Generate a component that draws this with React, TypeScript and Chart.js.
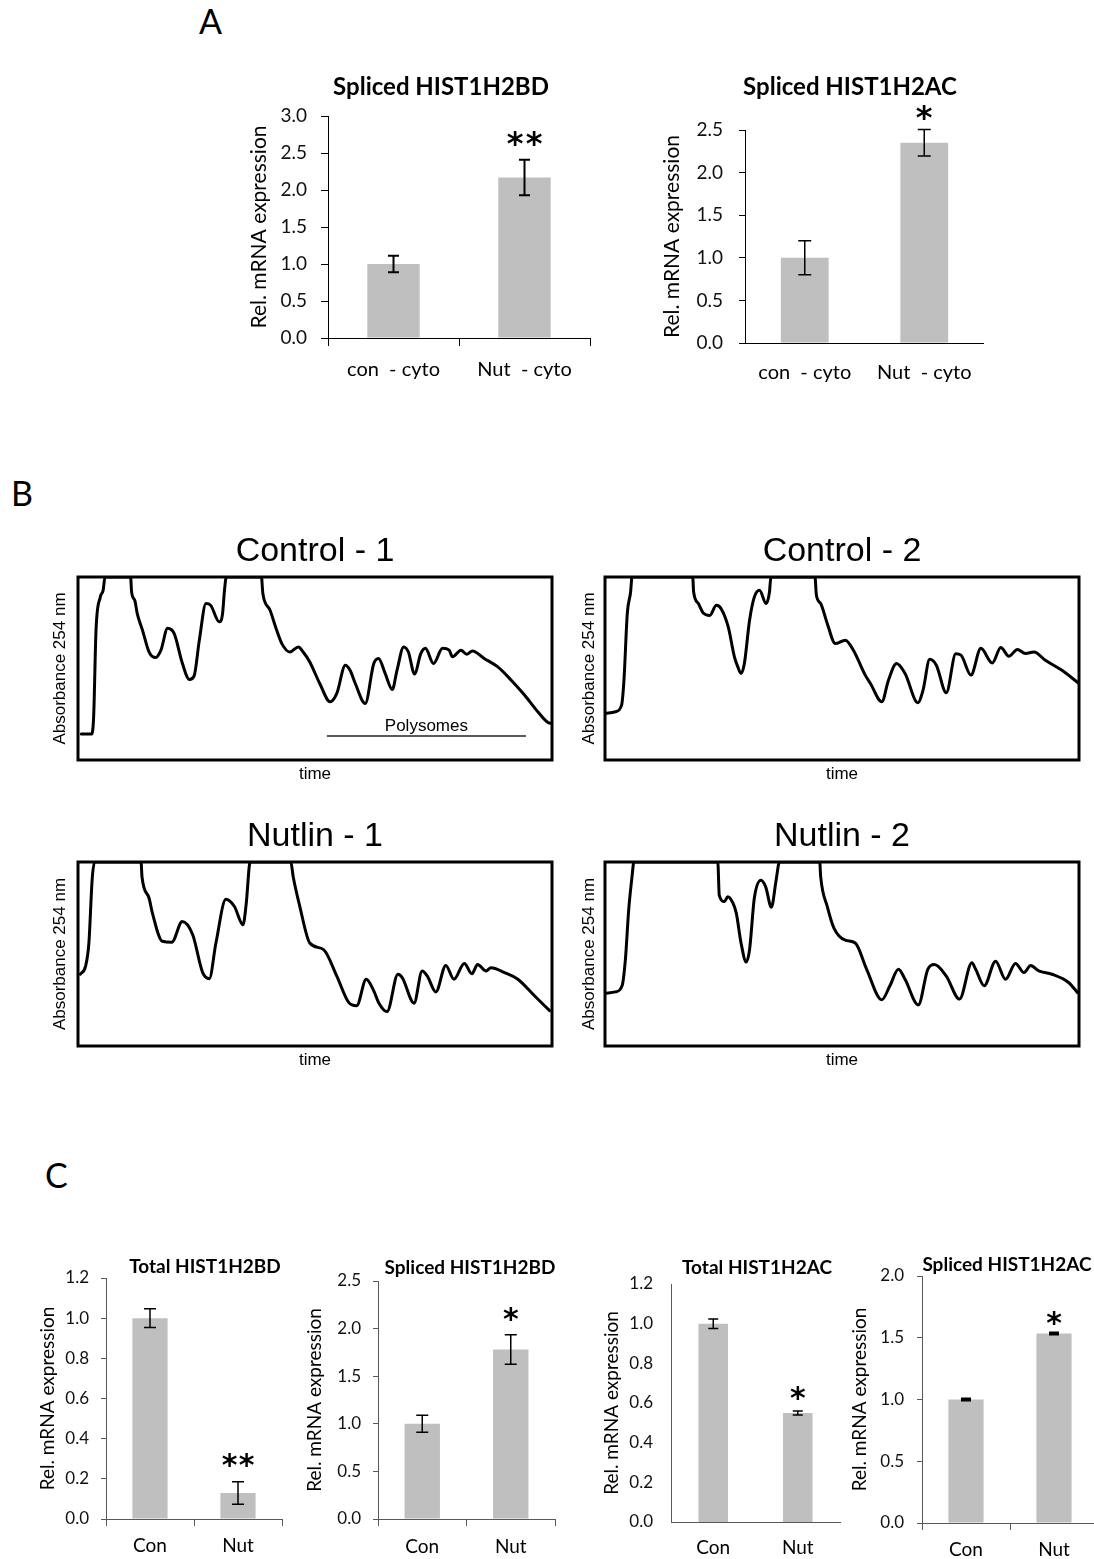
import React, { useEffect, useRef } from 'react';
import { Chart, registerables } from 'chart.js';

Chart.register(...registerables);

const CAL = 'Lato, "Open Sans", sans-serif';
const ARIAL = '"Liberation Sans", Arial, sans-serif';
const STAR_FONT = '"DejaVu Sans", sans-serif';

// ---------------- Panel A data ----------------
const A_CATEGORIES = ['con  - cyto', 'Nut  - cyto'];
const A1_VALUES = [1.0, 2.17];
const A1_ERRORS = [0.11, 0.24];
const A1_STARS = ['', '**'];
const A2_VALUES = [1.0, 2.35];
const A2_ERRORS = [0.2, 0.155];
const A2_STARS = ['', '*'];

// ---------------- Panel C data ----------------
const C_CATEGORIES = ['Con', 'Nut'];
const C1_VALUES = [1.0, 0.13];
const C1_ERRORS = [0.047, 0.056];
const C1_STARS = ['', '**'];
const C2_VALUES = [1.0, 1.78];
const C2_ERRORS = [0.09, 0.155];
const C2_STARS = ['', '*'];
const C3_VALUES = [1.0, 0.55];
const C3_ERRORS = [0.024, 0.01];
const C3_STARS = ['', '*'];
const C4_VALUES = [1.0, 1.535];
const C4_ERRORS = [0.006, 0.006];
const C4_STARS = ['', '*'];

// ---------------- Panel B data (polysome profiles, % of full scale) ----------------
const CONTROL1_TIME = [0.7, 2.8, 3.3, 3.8, 4.7, 5.3, 5.7, 11.1, 11.3, 12, 12.5, 13.6, 15, 16.4, 17.5, 18.9, 20.3, 22, 23.5, 24.5, 25.6, 27, 28, 29.8, 30.5, 30.9, 31.3, 38.7, 39, 40.5, 41.9, 43, 44.7, 46.5, 47.5, 48.9, 51, 53.2, 54.6, 56.4, 57.4, 58.5, 60.6, 62.4, 63.4, 64.8, 66.3, 67.3, 68.7, 69.7, 71, 72.3, 73.3, 75, 76.9, 78.3, 79, 80.8, 82, 83.2, 85.7, 88.5, 91.4, 94.2, 97, 99.2, 100];
const CONTROL1_A254 = [14.2, 14.2, 23.6, 71, 89, 92.7, 100, 100, 92, 87, 80, 71, 59, 56, 60, 72, 69, 53, 44, 46, 65.5, 85.5, 84.5, 75.5, 80, 92.7, 100, 100, 91, 82, 71, 63.6, 59, 61.8, 59, 53.6, 41.8, 31.8, 36.4, 51.8, 49, 41.8, 30.9, 52.7, 55.5, 47.3, 38.5, 49, 61.8, 59, 47, 58, 61, 52.7, 61, 60, 56.4, 60, 57.8, 59.6, 55.5, 51, 43.6, 35.5, 26.4, 20.4, 20];

const CONTROL2_TIME = [0.3, 2.2, 3.5, 4, 4.7, 5.4, 5.7, 18.5, 18.7, 19.7, 20.7, 22.1, 23.5, 24.5, 26, 27.3, 28, 28.7, 29.4, 30.5, 31.5, 32.6, 34, 34.7, 35, 44.3, 44.6, 45.5, 46.9, 48.6, 50.7, 52.4, 54.9, 56, 58.4, 59.8, 61.5, 63.3, 66, 67.1, 68.5, 69.9, 72, 74, 75.1, 77.2, 79.3, 81.7, 83.5, 85.2, 87, 88.7, 90.5, 92.9, 96.4, 100];
const CONTROL2_A254 = [25.5, 26.4, 30, 43.6, 80, 91.8, 100, 100, 91.8, 85.5, 80.4, 79, 84.5, 82.7, 72.7, 56.4, 51, 47.3, 52.7, 76.4, 89, 92.7, 85.5, 91.8, 100, 100, 90, 85.5, 74.5, 63.6, 65.5, 60, 46.4, 41.8, 31.8, 43.6, 52.7, 47.3, 31.3, 38.2, 55, 51.8, 36.7, 58, 57.3, 46.4, 61, 53, 61.5, 56.7, 60.4, 58.2, 59, 54.5, 49, 41.8];

const NUTLIN1_TIME = [0.5, 1.6, 2.3, 3, 3.5, 13.3, 13.5, 15, 15.7, 17.8, 19.8, 22, 24.2, 26.3, 27.7, 29.1, 31.2, 33, 34.8, 35.5, 36.2, 36.4, 44.9, 45.4, 46.8, 48.9, 51.8, 54.6, 57.1, 58.8, 60.8, 62.4, 63.4, 65.2, 67.5, 68.4, 70.9, 72.6, 73.7, 75.5, 77.6, 79.3, 81.5, 83.1, 84.3, 86.1, 87.1, 90, 92.8, 96.3, 99.5];
const NUTLIN1_A254 = [39, 43.4, 56, 91, 100, 100, 92, 80.3, 72.2, 56.9, 56.4, 67.7, 60.5, 39.9, 36.6, 56, 79.7, 75.8, 65.9, 77.6, 99, 100, 100, 92, 75.8, 56, 52.4, 38, 23.7, 21.9, 36.3, 30, 23.7, 18.7, 39, 37.2, 23.3, 40.8, 38, 29.4, 43.8, 36.3, 44.9, 39.3, 44.3, 40.8, 42.5, 39.9, 36.3, 27.3, 19.2];

const NUTLIN2_TIME = [0.3, 2.2, 3.6, 4.3, 5, 5.7, 6.1, 23.8, 24.1, 25.2, 25.9, 27, 27.7, 28.7, 29.8, 30.5, 31.5, 32.9, 33.9, 35.1, 36.1, 36.8, 45.3, 45.5, 46.9, 48.3, 50.7, 52.8, 55.2, 58.4, 60.1, 61.9, 63.3, 66.1, 68.1, 69.5, 72, 74.8, 77.4, 78.2, 80, 82.4, 84.5, 86.6, 88.4, 89.8, 91.5, 94.3, 97.8, 99.7];
const NUTLIN2_A254 = [28.7, 29.4, 32.7, 47, 74, 92, 100, 100, 82, 78.5, 81.1, 77.6, 72.2, 56, 45.6, 52.4, 80.3, 90.1, 86.5, 75.4, 90.1, 100, 100, 92, 75.8, 64.1, 57.5, 56, 41.7, 25.1, 32.7, 41.7, 36.3, 22.3, 41.7, 44.3, 38, 25.5, 45.2, 41.7, 32.7, 46.1, 36.3, 44.9, 39.9, 43.8, 40.8, 39, 34.5, 29];

const POLYSOME_RANGE = [52.5, 94.5];
const POLYSOME_LEVEL = 13.1;
const POLYSOME_LABEL = 'Polysomes';

// ---------------- Layout specs ----------------
type Area = { l: number; r: number; t: number; b: number };
type BarSpec = {
  key: string; title: string; categories: string[]; values: number[]; errors: number[]; stars: string[];
  yMax: number; yStep: number; area: Area;
  titleX: number; titleY: number; titleSize: number;
  yTitleX: number; yTitleSize: number; tickSize: number; xLabelSize: number;
  yTickLen: number; yTickPad: number; xTickLen: number; xLabelPad: number;
  barPct: number; cap: number; errWidth: number; starGap: number; starSize: number; starSpacing: number; axisColor: string;
};

const BAR_SPECS: BarSpec[] = [
  { key: 'A1', title: 'Spliced HIST1H2BD', categories: A_CATEGORIES, values: A1_VALUES, errors: A1_ERRORS, stars: A1_STARS,
    yMax: 3, yStep: 0.5, area: { l: 328, r: 590, t: 116, b: 338 }, titleX: 441, titleY: 87, titleSize: 24,
    yTitleX: 259, yTitleSize: 21, tickSize: 19, xLabelSize: 20, yTickLen: 7, yTickPad: 14, xTickLen: 8, xLabelPad: 12,
    barPct: 0.4, cap: 11, errWidth: 2, starGap: 21, starSize: 32, starSpacing: 19, axisColor: '#000' },
  { key: 'A2', title: 'Spliced HIST1H2AC', categories: A_CATEGORIES, values: A2_VALUES, errors: A2_ERRORS, stars: A2_STARS,
    yMax: 2.5, yStep: 0.5, area: { l: 745, r: 985, t: 130, b: 343 }, titleX: 850, titleY: 87, titleSize: 24,
    yTitleX: 672, yTitleSize: 21, tickSize: 19, xLabelSize: 20, yTickLen: 6, yTickPad: 16, xTickLen: 0, xLabelPad: 18,
    barPct: 0.4, cap: 13, errWidth: 1.5, starGap: 17, starSize: 32, starSpacing: 19, axisColor: '#000' },
  { key: 'C1', title: 'Total HIST1H2BD', categories: C_CATEGORIES, values: C1_VALUES, errors: C1_ERRORS, stars: C1_STARS,
    yMax: 1.2, yStep: 0.2, area: { l: 106, r: 282, t: 1278, b: 1519 }, titleX: 205, titleY: 1267, titleSize: 19,
    yTitleX: 48, yTitleSize: 19, tickSize: 17, xLabelSize: 19, yTickLen: 5, yTickPad: 12, xTickLen: 7, xLabelPad: 8,
    barPct: 0.4, cap: 12, errWidth: 1.5, starGap: 21, starSize: 30, starSpacing: 17, axisColor: '#595959' },
  { key: 'C2', title: 'Spliced HIST1H2BD', categories: C_CATEGORIES, values: C2_VALUES, errors: C2_ERRORS, stars: C2_STARS,
    yMax: 2.5, yStep: 0.5, area: { l: 378, r: 555, t: 1281, b: 1519 }, titleX: 470, titleY: 1268, titleSize: 19,
    yTitleX: 315, yTitleSize: 19, tickSize: 17, xLabelSize: 19, yTickLen: 5, yTickPad: 12, xTickLen: 7, xLabelPad: 9,
    barPct: 0.4, cap: 12, errWidth: 1.5, starGap: 20, starSize: 30, starSpacing: 17, axisColor: '#595959' },
  { key: 'C3', title: 'Total HIST1H2AC', categories: C_CATEGORIES, values: C3_VALUES, errors: C3_ERRORS, stars: C3_STARS,
    yMax: 1.2, yStep: 0.2, area: { l: 671, r: 840, t: 1284, b: 1522 }, titleX: 757, titleY: 1268, titleSize: 19,
    yTitleX: 612, yTitleSize: 19, tickSize: 17, xLabelSize: 19, yTickLen: 0, yTickPad: 18, xTickLen: 0, xLabelPad: 14,
    barPct: 0.35, cap: 10, errWidth: 1.5, starGap: 17, starSize: 30, starSpacing: 17, axisColor: '#595959' },
  { key: 'C4', title: 'Spliced HIST1H2AC', categories: C_CATEGORIES, values: C4_VALUES, errors: C4_ERRORS, stars: C4_STARS,
    yMax: 2, yStep: 0.5, area: { l: 922, r: 1098, t: 1276, b: 1523 }, titleX: 1007, titleY: 1265, titleSize: 19,
    yTitleX: 860, yTitleSize: 19, tickSize: 17, xLabelSize: 19, yTickLen: 5, yTickPad: 13, xTickLen: 7, xLabelPad: 8,
    barPct: 0.4, cap: 10, errWidth: 2.5, starGap: 14, starSize: 30, starSpacing: 17, axisColor: '#595959' },
];

type TraceSpec = { key: string; title: string; time: number[]; a254: number[]; area: Area; yTitleX: number; polysomes: boolean };

const TRACE_SPECS: TraceSpec[] = [
  { key: 'B1', title: 'Control - 1', time: CONTROL1_TIME, a254: CONTROL1_A254, area: { l: 78, r: 552, t: 577, b: 760 }, yTitleX: 60, polysomes: true },
  { key: 'B2', title: 'Control - 2', time: CONTROL2_TIME, a254: CONTROL2_A254, area: { l: 605, r: 1079, t: 577, b: 760 }, yTitleX: 589, polysomes: false },
  { key: 'B3', title: 'Nutlin - 1', time: NUTLIN1_TIME, a254: NUTLIN1_A254, area: { l: 78, r: 552, t: 862, b: 1046 }, yTitleX: 60, polysomes: false },
  { key: 'B4', title: 'Nutlin - 2', time: NUTLIN2_TIME, a254: NUTLIN2_A254, area: { l: 605, r: 1079, t: 862, b: 1046 }, yTitleX: 589, polysomes: false },
];

// ---------------- Plugins ----------------
const barExtras = {
  id: 'barExtras',
  afterDatasetsDraw(chart: any, _args: any, opts: any) {
    const { ctx } = chart;
    const y = chart.scales.y;
    const meta = chart.getDatasetMeta(0);
    const values = chart.data.datasets[0].data as number[];
    ctx.save();
    meta.data.forEach((bar: any, i: number) => {
      const v = values[i];
      const e = opts.errors[i];
      const yTop = y.getPixelForValue(v + e);
      const yBot = y.getPixelForValue(v - e);
      ctx.strokeStyle = '#000';
      ctx.lineWidth = opts.errWidth;
      ctx.beginPath();
      ctx.moveTo(bar.x, yTop); ctx.lineTo(bar.x, yBot);
      ctx.moveTo(bar.x - opts.cap / 2, yTop); ctx.lineTo(bar.x + opts.cap / 2, yTop);
      ctx.moveTo(bar.x - opts.cap / 2, yBot); ctx.lineTo(bar.x + opts.cap / 2, yBot);
      ctx.stroke();
      const star: string = opts.stars[i];
      if (star) {
        ctx.fillStyle = '#000';
        ctx.font = `bold ${opts.starSize}px ${STAR_FONT}`;
        ctx.textAlign = 'center';
        ctx.textBaseline = 'alphabetic';
        const m = ctx.measureText('*');
        const center = yTop - opts.starGap;
        const base = center + (m.actualBoundingBoxAscent - m.actualBoundingBoxDescent) / 2;
        const n = star.length;
        for (let k = 0; k < n; k++) {
          const cx = bar.x + (k - (n - 1) / 2) * opts.starSpacing;
          ctx.fillText(star[k], cx, base);
        }
      }
    });
    ctx.fillStyle = '#000';
    ctx.font = `bold ${opts.titleSize}px ${CAL}`;
    ctx.textAlign = 'center';
    ctx.textBaseline = 'middle';
    ctx.fillText(opts.title, opts.titleX, opts.titleY);
    ctx.restore();
  },
};

const frameAndLabel = {
  id: 'frameAndLabel',
  afterDatasetsDraw(chart: any, _args: any, opts: any) {
    const { ctx, chartArea } = chart;
    ctx.save();
    ctx.strokeStyle = '#000';
    ctx.lineWidth = 3;
    ctx.strokeRect(chartArea.left, chartArea.top, chartArea.right - chartArea.left, chartArea.bottom - chartArea.top);
    if (opts.label) {
      const x = chart.scales.x.getPixelForValue(opts.labelX);
      const y = chart.scales.y.getPixelForValue(opts.labelY);
      ctx.fillStyle = '#000';
      ctx.font = `17px ${ARIAL}`;
      ctx.textAlign = 'center';
      ctx.textBaseline = 'middle';
      ctx.fillText(opts.label, x, y);
    }
    ctx.restore();
  },
};

// ---------------- Components ----------------
function BarPanel({ spec }: { spec: BarSpec }) {
  const ref = useRef<HTMLCanvasElement>(null);
  const XH = 60;
  const scaleLeft = spec.yTitleX - (spec.yTitleSize * 1.2) / 2;
  const L = Math.floor(scaleLeft) - 4;
  const padL = scaleLeft - L;
  const yw = spec.area.l - scaleLeft;
  const T = Math.floor(spec.titleY - 22);
  const padT = spec.area.t - T;
  const W = Math.ceil(spec.area.r + 6 - L);
  const padR = L + W - spec.area.r;
  const H = Math.ceil(spec.area.b + XH + 4 - T);
  const padB = T + H - spec.area.b - XH;

  useEffect(() => {
    const chart = new Chart(ref.current as HTMLCanvasElement, {
      type: 'bar',
      data: {
        labels: spec.categories,
        datasets: [{ data: spec.values, backgroundColor: '#bfbfbf', borderWidth: 0, barPercentage: spec.barPct, categoryPercentage: 1 }],
      },
      options: {
        responsive: false,
        animation: false,
        events: [],
        layout: { padding: { left: padL, right: padR, top: padT, bottom: padB } },
        plugins: {
          legend: { display: false },
          tooltip: { enabled: false },
          title: { display: false },
          barExtras: {
            errors: spec.errors, stars: spec.stars, cap: spec.cap, errWidth: spec.errWidth,
            starGap: spec.starGap, starSize: spec.starSize, starSpacing: spec.starSpacing,
            title: spec.title, titleSize: spec.titleSize, titleX: spec.titleX - L, titleY: spec.titleY - T,
          },
        } as any,
        scales: {
          x: {
            grid: { display: spec.xTickLen > 0, drawOnChartArea: false, drawTicks: true, tickLength: spec.xTickLen, color: spec.axisColor, offset: true },
            border: { display: true, color: spec.axisColor, width: 1 },
            ticks: { color: '#000', font: { family: CAL, size: spec.xLabelSize }, padding: spec.xLabelPad, maxRotation: 0, autoSkip: false },
            afterFit: (s: any) => { s.height = XH; },
          },
          y: {
            min: 0,
            max: spec.yMax,
            grid: { display: spec.yTickLen > 0, drawOnChartArea: false, drawTicks: true, tickLength: spec.yTickLen, color: spec.axisColor },
            border: { display: true, color: spec.axisColor, width: 1 },
            ticks: { stepSize: spec.yStep, color: '#111', font: { family: CAL, size: spec.tickSize }, padding: spec.yTickPad, callback: (v: any) => Number(v).toFixed(1) },
            title: { display: true, text: 'Rel. mRNA expression', color: '#000', font: { family: CAL, size: spec.yTitleSize }, padding: { top: 0, bottom: 0 } },
            afterFit: (s: any) => { s.width = yw; },
          },
        },
      } as any,
      plugins: [barExtras],
    });
    return () => chart.destroy();
  }, []);

  return <canvas ref={ref} width={W} height={H} style={{ position: 'absolute', left: L, top: T, width: W, height: H }} />;
}

function TracePanel({ spec }: { spec: TraceSpec }) {
  const ref = useRef<HTMLCanvasElement>(null);
  const XH = 26;
  const titleBlock = 34 * 1.2 + 5;
  const scaleLeft = spec.yTitleX - (17 * 1.2) / 2;
  const L = Math.floor(scaleLeft) - 2;
  const padL = scaleLeft - L;
  const yw = spec.area.l - scaleLeft;
  const T = Math.floor(spec.area.t - titleBlock - 4);
  const padT = spec.area.t - titleBlock - T;
  const W = Math.ceil(spec.area.r + 4 - L);
  const padR = L + W - spec.area.r;
  const H = Math.ceil(spec.area.b + XH + 4 - T);
  const padB = T + H - spec.area.b - XH;

  useEffect(() => {
    const datasets: any[] = [
      {
        data: spec.time.map((t, i) => ({ x: t, y: spec.a254[i] })),
        borderColor: '#000', borderWidth: 3, pointRadius: 0, fill: false,
        cubicInterpolationMode: 'monotone', borderJoinStyle: 'round', borderCapStyle: 'round',
      },
    ];
    if (spec.polysomes) {
      datasets.push({
        data: POLYSOME_RANGE.map((t) => ({ x: t, y: POLYSOME_LEVEL })),
        borderColor: '#222', borderWidth: 1.5, pointRadius: 0, fill: false,
      });
    }
    const chart = new Chart(ref.current as HTMLCanvasElement, {
      type: 'line',
      data: { datasets },
      options: {
        responsive: false,
        animation: false,
        events: [],
        layout: { padding: { left: padL, right: padR, top: padT, bottom: padB } },
        plugins: {
          legend: { display: false },
          tooltip: { enabled: false },
          title: { display: true, text: spec.title, fullSize: false, color: '#000', font: { family: ARIAL, size: 34, weight: 'normal' }, padding: { top: 0, bottom: 5 } },
          frameAndLabel: spec.polysomes
            ? { label: POLYSOME_LABEL, labelX: (POLYSOME_RANGE[0] + POLYSOME_RANGE[1]) / 2, labelY: POLYSOME_LEVEL + 5.2 }
            : { label: '' },
        } as any,
        scales: {
          x: {
            type: 'linear', min: 0, max: 100,
            grid: { display: false }, border: { display: false }, ticks: { display: false },
            title: { display: true, text: 'time', color: '#000', font: { family: ARIAL, size: 17 }, padding: { top: 0, bottom: 1 } },
            afterFit: (s: any) => { s.height = XH; },
          },
          y: {
            min: 0, max: 100,
            grid: { display: false }, border: { display: false }, ticks: { display: false },
            title: { display: true, text: 'Absorbance 254 nm', color: '#000', font: { family: ARIAL, size: 17 }, padding: { top: 0, bottom: 0 } },
            afterFit: (s: any) => { s.width = yw; },
          },
        },
      } as any,
      plugins: [frameAndLabel],
    });
    return () => chart.destroy();
  }, []);

  return <canvas ref={ref} width={W} height={H} style={{ position: 'absolute', left: L, top: T, width: W, height: H }} />;
}

const letterStyle = (left: number, top: number): React.CSSProperties => ({
  position: 'absolute', left, top, fontFamily: CAL, fontSize: 34, lineHeight: '34px', color: '#000', margin: 0,
});

export default function App() {
  return (
    <div style={{ position: 'absolute', left: 0, top: 0, width: 1094, height: 1559, overflow: 'hidden', background: '#fff' }}>
      <div style={letterStyle(199, 4)}>A</div>
      <div style={letterStyle(11, 476)}>B</div>
      <div style={letterStyle(45, 1158)}>C</div>
      {BAR_SPECS.map((s) => <BarPanel key={s.key} spec={s} />)}
      {TRACE_SPECS.map((s) => <TracePanel key={s.key} spec={s} />)}
    </div>
  );
}
